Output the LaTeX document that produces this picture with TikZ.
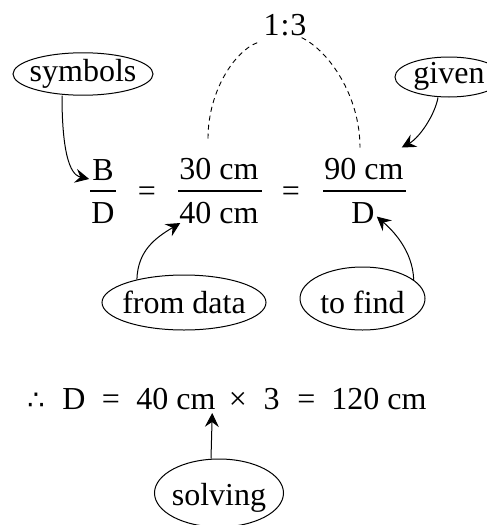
\documentclass[tikz,border=0pt]{standalone}
\usepackage{fontspec}
\setmainfont{Liberation Serif}
\newfontfamily\symf[Scale=0.85]{DejaVu Sans}
\usetikzlibrary{shapes.geometric,arrows.meta}
\newcommand\bigtxt{\fontsize{32}{38}\selectfont}
\tikzset{
  txt/.style={font=\bigtxt, inner sep=0pt, anchor=base},
  bubble/.style={ellipse, draw, line width=1pt, inner sep=0pt, font=\bigtxt},
  arr/.style={-{Stealth[length=14pt,width=14pt,inset=5pt]}, line width=1pt},
  dsh/.style={dash pattern=on 5pt off 4pt, line width=0.9pt},
  fbar/.style={line width=1.2pt}
}
\begin{document}
\begin{tikzpicture}[x=1pt,y=-1pt]
\useasboundingbox (0,0) rectangle (487,525);
\clip (0,0) rectangle (487,525);
% ratio
\node[txt] (ratio) at (285,35) {1\kern1pt:\kern1pt3};
% top equation
\node[txt] (nB) at (103,180) {B};
\node[txt] (dD1) at (103,223) {D};
\node[txt] (eq1) at (147,201) {=};
\node[txt] (n30) at (219,179) {30 cm};
\node[txt] (d40) at (219,223) {40 cm};
\node[txt] (eq2) at (291,201) {=};
\node[txt] (n90) at (364,179) {90 cm};
\node[txt] (dD2) at (363,223) {D};
\draw[fbar] (90,191) -- (116,191);
\draw[fbar] (178,191) -- (262,191);
\draw[fbar] (323,191) -- (406,191);
% bottom equation
\node[txt] (thf) at (36,409) {{\symf ∴}};
\node[txt] (bD) at (74,409) {D};
\node[txt] (beq1) at (111,409) {=};
\node[txt] (b40) at (176,409) {40 cm};
\node[txt] (btimes) at (238,409) {×};
\node[txt] (b3) at (271.5,409) {3};
\node[txt] (beq2) at (306.5,409) {=};
\node[txt] (b120) at (379,409) {120 cm};
% bubbles
\node[bubble, minimum width=140pt, minimum height=40pt, text height=22pt, text depth=8pt] (sym) at (83,74) {\makebox[0pt]{symbols}};
\node[bubble, minimum width=108pt, minimum height=40pt, text height=20pt, text depth=8pt] (giv) at (449,77) {\makebox[0pt]{given}};
\node[bubble, minimum width=164pt, minimum height=55pt, text height=21pt, text depth=0pt] (fd) at (184,302.5) {\makebox[0pt]{from data}};
\node[bubble, minimum width=125pt, minimum height=63pt, text height=29pt, text depth=0pt] (tf) at (362.5,298.5) {\makebox[0pt]{to find}};
\node[bubble, minimum width=129pt, minimum height=68pt, text height=24pt, text depth=0pt] (sol) at (219,493) {\makebox[0pt]{solving}};
% dashed arcs
\draw[dsh] ([xshift=-11pt,yshift=19pt]n30.north) .. controls +(0,-48) and +(-22,8) .. ([xshift=-6pt,yshift=-7pt]ratio.south west);
\draw[dsh] ([xshift=-5pt,yshift=-2pt]ratio.south east) .. controls +(27,13) and +(0,-52) .. ([xshift=-4pt,yshift=10pt]n90.north);
% arrows
\draw[arr] ([xshift=-21pt]sym.south) .. controls +(0,76) and +(-13,-3) .. ([xshift=-3pt,yshift=1pt]nB.base west);
\draw[arr] ([xshift=-11pt]giv.south) .. controls +(-3,17) and +(18,-10) .. ([xshift=-2pt,yshift=10pt]n90.north east);
\draw[arr] (fd.154) .. controls +(1,-29) and +(-25,15) .. ([xshift=1pt]d40.base west);
\draw[arr] (tf.20) .. controls +(-1,-30) and +(15,13) .. ([xshift=2pt,yshift=-4pt]dD2.east);
\draw[arr] ([xshift=-8pt]sol.north) -- ([xshift=-3.5pt,yshift=-4pt]b40.base east);
\end{tikzpicture}
\end{document}
